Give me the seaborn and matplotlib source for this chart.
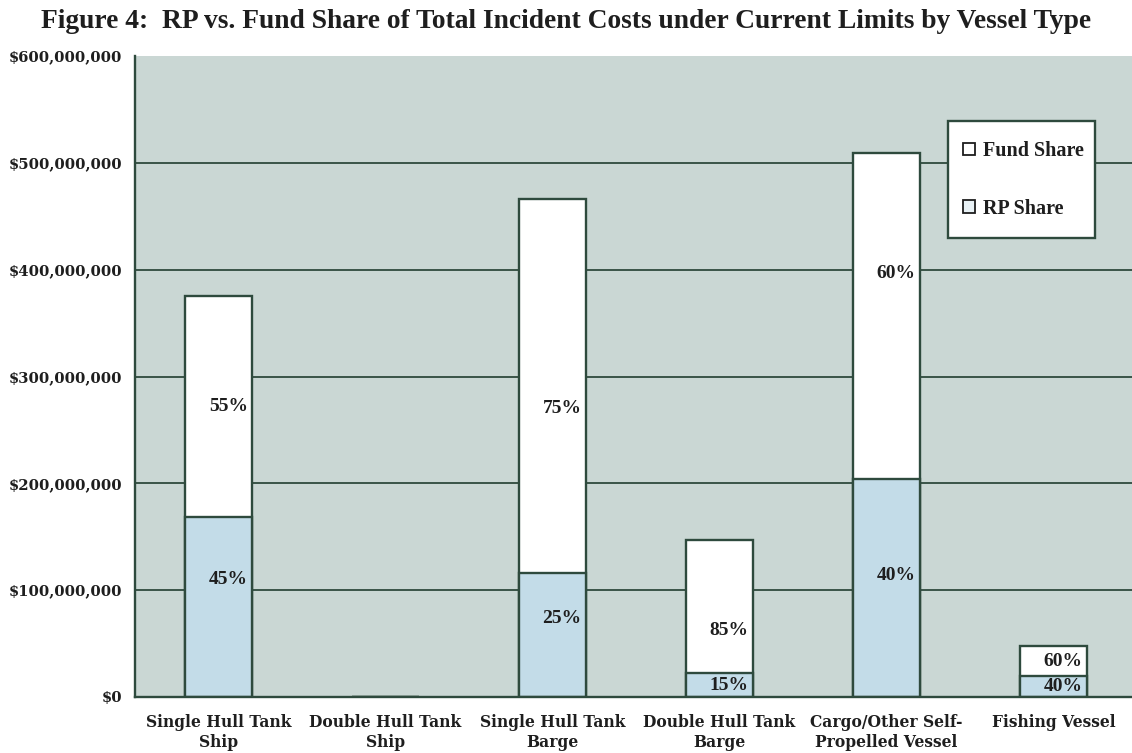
import numpy as np
import pandas as pd
import matplotlib
matplotlib.use("Agg")
import matplotlib.pyplot as plt
import seaborn as sns
from matplotlib.patches import Patch, Rectangle
from matplotlib.ticker import FuncFormatter, FixedLocator

# Vessel categories and incident cost data
categories = [
    "Single Hull Tank\nShip",
    "Double Hull Tank\nShip",
    "Single Hull Tank\nBarge",
    "Double Hull Tank\nBarge",
    "Cargo/Other Self-\nPropelled Vessel",
    "Fishing Vessel",
]
total_costs = [375e6, 0, 466e6, 147e6, 509e6, 48e6]
rp_pct = [45, 0, 25, 15, 40, 40]
fund_pct = [55, 0, 75, 85, 60, 60]

rp_share = [t * p / 100 for t, p in zip(total_costs, rp_pct)]

title = "Figure 4:  RP vs. Fund Share of Total Incident Costs under Current Limits by Vessel Type"
y_ticks = [0, 100e6, 200e6, 300e6, 400e6, 500e6, 600e6]

# Colours
BG = "#cad7d4"
EDGE = "#2e4a3d"
RP_COLOR = "#c3dce8"
TEXT = "#1e1e1e"

sns.set_theme(style="white")
plt.rcParams["font.family"] = ["DejaVu Serif"]

W, H = 1132, 753
fig = plt.figure(figsize=(W / 100, H / 100), dpi=100)
fig.patch.set_facecolor("white")
ax = fig.add_axes([135 / W, 56 / H, 1002 / W, 641 / H])
ax.set_facecolor(BG)

df = pd.DataFrame({"vessel": categories, "total": total_costs, "rp": rp_share})

# Full bar (fund + RP) in white, RP portion overlaid in light blue
sns.barplot(data=df, x="vessel", y="total", color="white", saturation=1,
            edgecolor=EDGE, linewidth=1.7, width=0.4, errorbar=None,
            ax=ax, zorder=2)
sns.barplot(data=df, x="vessel", y="rp", color=RP_COLOR, saturation=1,
            edgecolor=EDGE, linewidth=1.7, width=0.4, errorbar=None,
            ax=ax, zorder=3)

ax.set_xlim(-0.5, len(categories) - 0.5)
ax.set_ylim(0, 600e6)
ax.set_xlabel("")
ax.set_ylabel("")

# Horizontal gridlines
for yv in y_ticks[1:-1]:
    ax.axhline(yv, color=EDGE, lw=1.3, zorder=1)

for side in ("top", "right"):
    ax.spines[side].set_visible(False)
for side in ("left", "bottom"):
    ax.spines[side].set_color(EDGE)
    ax.spines[side].set_linewidth(1.7)
    ax.spines[side].set_zorder(4)

ax.yaxis.set_major_locator(FixedLocator(y_ticks))
ax.yaxis.set_major_formatter(FuncFormatter(lambda v, p: f"${v:,.0f}"))
ax.tick_params(axis="y", which="major", length=3, width=1.2, color=EDGE,
               direction="out", pad=6, labelsize=10.6, labelcolor=TEXT)
ax.tick_params(axis="x", which="major", length=0, pad=12, labelsize=11.2,
               labelcolor=TEXT)
ax.xaxis.set_minor_locator(FixedLocator(np.arange(-0.5, len(categories), 1.0)))
ax.tick_params(axis="x", which="minor", length=4, width=1.2, color=EDGE,
               direction="out")
for lab in ax.get_yticklabels() + ax.get_xticklabels():
    lab.set_fontweight("bold")
    lab.set_family("DejaVu Serif")
for lab in ax.get_xticklabels():
    lab.set_linespacing(1.25)

# Percentage labels: where each sits within its segment (fraction of height)
rp_anchor = [0.65, 0.5, 0.63, 0.5, 0.56, 0.5]
fund_anchor = [0.5, 0.5, 0.44, 0.32, 0.63, 0.5]
label_font = dict(family="Liberation Serif", fontweight="bold", fontsize=14,
                  color=TEXT, ha="right", va="center", zorder=5)
for i, (tot, rp, rpp, fp) in enumerate(zip(total_costs, rp_share, rp_pct, fund_pct)):
    if tot <= 0:
        continue
    y_rp = rp * rp_anchor[i]
    y_fund = rp + (tot - rp) * fund_anchor[i]
    ax.annotate(f"{rpp}%", xy=(i + 0.2, y_rp), xytext=(-3, 0),
                textcoords="offset points", **label_font)
    ax.annotate(f"{fp}%", xy=(i + 0.2, y_fund), xytext=(-3, 0),
                textcoords="offset points", **label_font)

# Legend box with the entries placed inside it
box = Rectangle((948 / W, 1 - 238 / H), 147 / W, 117 / H,
                transform=fig.transFigure, facecolor="white",
                edgecolor=EDGE, linewidth=1.7, zorder=6, clip_on=False)
ax.add_artist(box)
handles = [
    Patch(facecolor="white", edgecolor=TEXT, linewidth=1.3, label="Fund Share"),
    Patch(facecolor="#e8f1f5", edgecolor=TEXT, linewidth=1.3, label="RP Share"),
]
leg = ax.legend(handles=handles, loc="upper left",
                bbox_to_anchor=(963 / W, 1 - 141 / H),
                bbox_transform=fig.transFigure, frameon=False,
                handlelength=0.6, handleheight=0.6, handletextpad=0.4,
                borderpad=0, labelspacing=1.88, borderaxespad=0,
                prop=dict(family="Liberation Serif", weight="bold", size=14.5))
leg.set_zorder(7)
for t in leg.get_texts():
    t.set_color(TEXT)

fig.text(0.5, 1 - 21 / H, title, ha="center", va="center",
         family="Liberation Serif", fontweight="bold", fontsize=19.8, color=TEXT)

fig.savefig("out.png", dpi=100, facecolor="white")
